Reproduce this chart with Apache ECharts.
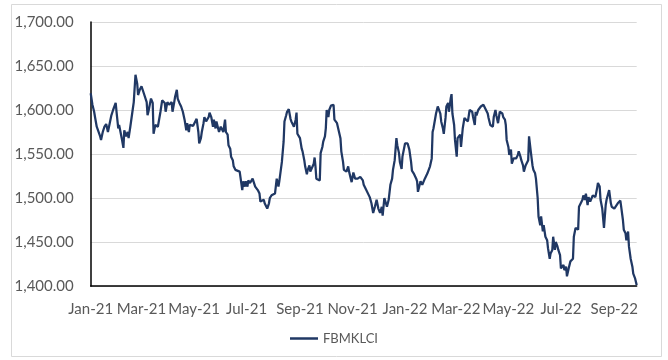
<!DOCTYPE html>
<html>
<head>
<meta charset="utf-8">
<script src="https://cdn.jsdelivr.net/npm/echarts@6/dist/echarts.min.js"></script>
<style>
html,body{margin:0;padding:0;background:#fff;}
#chart{width:668px;height:360px;}
</style>
</head>
<body>
<div id="chart"></div>
<script>
// ---- Data ----
const seriesName = 'FBMKLCI';
const startDate = '2021-01-04';
const endDate = '2022-09-30';
// calendar days after 2021-01-04
const dayOffsets = [
0,2,4,5,7,9,11,12,14,16,18,20,22,24,26,29,30,32,33,35,36,38,39,41,43,44,46,47,49,50,52,54,55,57,59,61,63,65,66,67,69,70,72,73,75,77,78,80,81,83,84,86,87,89,91,92,94,95,97,98,100,101,103,105,107,
109,111,112,114,115,117,119,121,123,125,126,128,129,131,132,134,135,137,138,140,142,143,145,146,148,149,151,152,154,156,157,159,160,162,163,165,166,168,170,173,174,176,177,179,180,182,183,185,187,188,190,191,193,194,196,197,199,201,202,204,205,207,208,210,212,
214,216,218,219,221,222,224,225,227,228,230,232,233,235,236,238,239,240,242,243,245,246,248,249,251,252,254,255,257,259,260,261,262,264,266,267,269,270,272,273,274,276,277,279,280,282,283,285,286,288,290,291,293,294,296,297,299,300,302,303,305,307,308,310,311,313,314,316,317,319,321,
324,326,328,330,332,334,336,338,339,341,342,344,346,348,350,351,353,
355,356,358,359,361,362,364,365,367,368,370,372,373,375,376,378,379,380,382,383,385,386,388,389,391,392,394,396,397,398,399,401,403,404,406,407,409,410,412,413,415,416,418,419,420,422,423,425,426,427,
429,430,431,432,434,436,438,440,441,443,444,446,447,448,450,451,453,454,456,458,459,461,462,464,465,467,468,470,471,473,475,476,478,479,481,482,483,485,486,488,489,491,492,494,496,497,499,500,502,503,505,506,508,509,511,513,514,516,517,519,520,522,523,525,526,528,530,531,533,534,
536,537,539,540,542,543,545,546,547,549,550,552,553,555,557,558,560,561,563,564,566,567,569,571,572,574,575,577,578,580,581,583,585,586,588,589,591,592,594,595,596,598,599,601,602,604,605,607,608,610,612,613,615,616,618,619,621,622,624,625,627,629,630,632,634
];
const closeValues = [
1619,1606,1598,1592,1581,1579,1570,1566,1575,1581,1584,1575,1573,1594,1600,1608,1598,1579,1583,1573,1568,1557,1577,1570,1575,1568,1581,1581,1602,1609,1640,1630,1617,1623,1627,1621,1619,1609,1594,1598,1600,1613,1608,1573,1583,1583,1581,1583,1598,1611,1609,1608,1598,1609,1606,1606,1609,1598,1609,1615,1623,1613,1608,1604,1598,
1589,1577,1585,1575,1583,1581,1582,1581,1590,1575,1562,1568,1575,1585,1592,1587,1589,1592,1597,1592,1581,1589,1579,1587,1579,1575,1581,1579,1575,1589,1575,1572,1560,1556,1547,1543,1536,1532,1532,1530,1528,1509,1519,1513,1519,1513,1520,1517,1519,1522,1520,1513,1515,1509,1505,1496,1494,1498,1494,1492,1488,1494,1500,1503,1503,
1505,1522,1513,1519,1520,1541,1564,1587,1594,1598,1601,1590,1587,1585,1581,1589,1597,1573,1572,1568,1556,1553,1543,1536,1527,1532,1537,1530,1532,1539,1546,1536,1522,1522,1520,1551,1558,1564,1570,1579,1600,1592,1600,1605,1606,1606,1589,1587,1585,1583,1568,1553,1541,1532,1534,1530,1536,1530,1522,1518,1529,1522,1524,1522,1522,1524,1522,1520,1515,1511,1509,
1501,1494,1483,1490,1498,1488,1483,1490,1480,1500,1498,1490,1498,1515,1522,1532,1543,
1568,1560,1551,1541,1533,1547,1547,1562,1564,1562,1555,1541,1531,1528,1526,1522,1519,1507,1515,1519,1515,1517,1522,1524,1528,1528,1536,1545,1575,1579,1581,1596,1604,1604,1596,1587,1579,1573,1591,1604,1608,1598,1613,1618,1596,1583,1566,1547,1568,1568,
1572,1558,1556,1579,1591,1589,1587,1600,1602,1598,1592,1583,1598,1594,1600,1600,1604,1606,1606,1604,1600,1596,1591,1583,1581,1581,1592,1600,1594,1585,1598,1600,1596,1592,1589,1583,1566,1558,1549,1555,1539,1545,1547,1545,1549,1553,1547,1543,1537,1530,1537,1539,1543,1570,1553,1537,1532,1528,1522,1500,1479,1469,1479,1462,1469,1456,1452,1443,1431,1437,
1441,1456,1441,1450,1445,1441,1435,1420,1422,1424,1418,1422,1411,1420,1428,1430,1431,1456,1466,1467,1464,1490,1494,1498,1503,1498,1505,1492,1501,1496,1494,1503,1505,1501,1511,1517,1513,1498,1488,1486,1466,1492,1498,1500,1509,1494,1490,1488,1488,1486,1494,1496,1497,1490,1475,1464,1460,1452,1462,1445,1431,1422,1414,1409,1401
];
const tickDates = ['2021-01-04','2021-03-04','2021-05-04','2021-07-04','2021-09-04','2021-11-04','2022-01-04','2022-03-04','2022-05-04','2022-07-04','2022-09-04'];
const tickLabels = ['Jan-21','Mar-21','May-21','Jul-21','Sep-21','Nov-21','Jan-22','Mar-22','May-22','Jul-22','Sep-22'];
const yMin = 1400, yMax = 1700, yStep = 50;

// ---- Build category axis of calendar days ----
function ymd(t){const d=new Date(t);return d.getUTCFullYear()+'-'+String(d.getUTCMonth()+1).padStart(2,'0')+'-'+String(d.getUTCDate()).padStart(2,'0');}
const t0 = Date.parse(startDate+'T00:00:00Z'), t1 = Date.parse(endDate+'T00:00:00Z');
const categories = [];
for (let t=t0; t<=t1; t+=86400000) categories.push(ymd(t));
const lineData = new Array(categories.length).fill(null);
dayOffsets.forEach((d,i)=>{ lineData[d] = closeValues[i]; });

const FONT = 'Lato, "Open Sans", sans-serif';
const chart = echarts.init(document.getElementById('chart'), null, {renderer:'canvas'});
chart.setOption({
  animation:false,
  backgroundColor:'#ffffff',
  graphic:[{type:'rect', shape:{x:11.5,y:4.5,width:650,height:352}, style:{fill:'none',stroke:'#d9d9d9',lineWidth:1}, silent:true}],
  grid:{left:90.7, right:31.3, top:22, bottom:74, containLabel:false},
  legend:{show:true, bottom:10, left:'center', icon:'rect', itemWidth:28, itemHeight:2.5, itemGap:10,
    textStyle:{color:'#595959', fontFamily:FONT, fontSize:13}, data:[seriesName]},
  xAxis:{type:'category', data:categories, boundaryGap:false,
    axisLine:{show:true, lineStyle:{color:'#000000', width:1.5}},
    axisTick:{show:false},
    axisLabel:{color:'#595959', fontFamily:FONT, fontSize:15, margin:16,
      interval:(idx,val)=>tickDates.indexOf(val)>=0,
      formatter:(val)=>{const k=tickDates.indexOf(val);return k>=0?tickLabels[k]:'';}},
    splitLine:{show:false}},
  yAxis:{type:'value', min:yMin, max:yMax, interval:yStep,
    axisLine:{show:true, lineStyle:{color:'#000000', width:1.5}},
    axisTick:{show:false},
    axisLabel:{color:'#595959', fontFamily:FONT, fontSize:15, margin:17,
      formatter:(v)=>v.toLocaleString('en-US',{minimumFractionDigits:2, maximumFractionDigits:2})},
    splitLine:{show:true, lineStyle:{color:'#d9d9d9', width:1}}},
  series:[{name:seriesName, type:'line', data:lineData, connectNulls:true, showSymbol:false, symbol:'none',
    lineStyle:{color:'#203864', width:2.25}, itemStyle:{color:'#203864'}}]
});
</script>
</body>
</html>
